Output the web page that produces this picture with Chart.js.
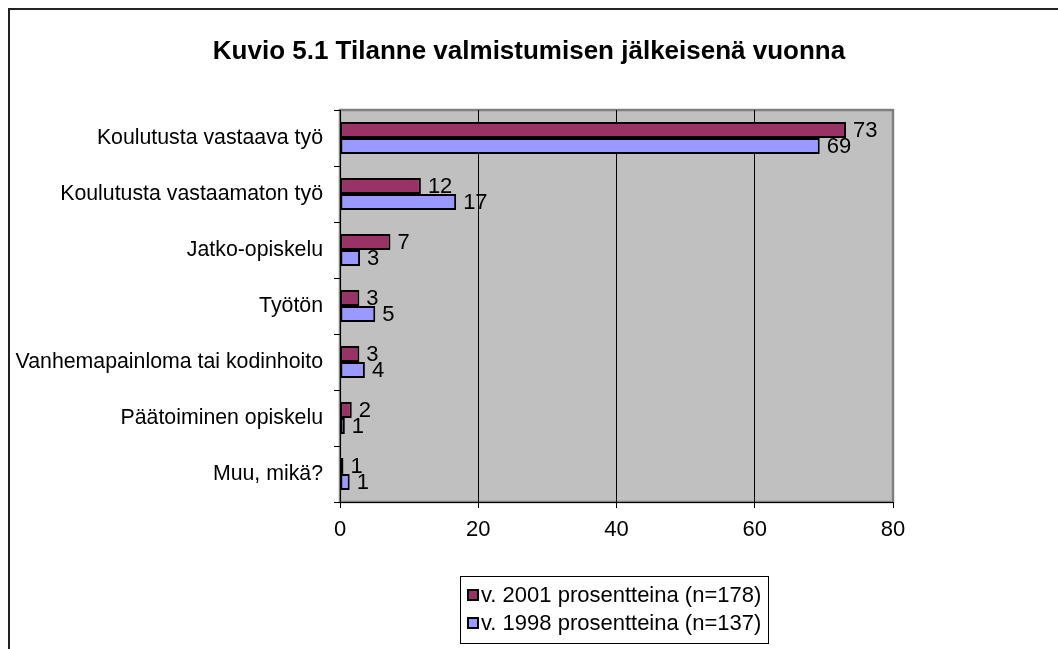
<!DOCTYPE html>
<html><head><meta charset="utf-8">
<script src="https://cdn.jsdelivr.net/npm/chart.js@4/dist/chart.umd.min.js"></script>
<style>html,body{margin:0;padding:0;background:#fff;overflow:hidden}#wrap{width:1058px;height:649px;position:relative}canvas{display:block}</style>
</head><body><div id="wrap"><canvas id="c" width="1058" height="649"></canvas></div>
<script>
const titleText = 'Kuvio 5.1 Tilanne valmistumisen jälkeisenä vuonna';
const categories = ['Koulutusta vastaava työ','Koulutusta vastaamaton työ','Jatko-opiskelu','Työtön','Vanhemapainloma tai kodinhoito','Päätoiminen opiskelu','Muu, mikä?'];
const seriesNames = ['v. 2001 prosentteina (n=178)','v. 1998 prosentteina (n=137)'];
const values2001 = [73.2, 11.7, 7.3, 2.8, 2.8, 1.7, 0.5];
const values1998 = [69.4, 16.8, 2.9, 5.1, 3.6, 0.7, 1.4];
const xTicks = [0, 20, 40, 60, 80];

const FONT = '"Liberation Sans", Arial, sans-serif';
const FS = 22;

const frameAndBg = {
  id: 'frameAndBg',
  beforeDraw(chart) {
    const {ctx, chartArea: a} = chart;
    ctx.save();
    ctx.fillStyle = '#fff';
    ctx.fillRect(0, 0, chart.width, chart.height);
    ctx.strokeStyle = '#222';
    ctx.lineWidth = 2;
    ctx.beginPath();
    ctx.moveTo(9, chart.height + 2);
    ctx.lineTo(9, 9);
    ctx.lineTo(chart.width + 2, 9);
    ctx.stroke();
    ctx.fillStyle = '#C0C0C0';
    ctx.fillRect(a.left, a.top, a.right - a.left, a.bottom - a.top);
    ctx.strokeStyle = '#808080';
    ctx.lineWidth = 2.5;
    ctx.strokeRect(a.left, a.top, a.right - a.left, a.bottom - a.top);
    ctx.restore();
  },
  afterDraw(chart) {
    const {ctx, chartArea: a} = chart;
    const ds = chart.data.datasets;
    ctx.save();
    ctx.font = FS + 'px ' + FONT;
    let maxW = 0;
    ds.forEach(d => { maxW = Math.max(maxW, ctx.measureText(d.label).width); });
    const sw = 10, gap = 3, padL = 8, padR = 7;
    const boxW = Math.round(padL + sw + gap + maxW + padR);
    const cx = (a.left + a.right) / 2 - 3;
    const left = Math.round(cx - boxW / 2);
    const top = 576, rowH = 28, firstRow = 595;
    const boxH = 67;
    ctx.strokeStyle = '#000';
    ctx.lineWidth = 1;
    ctx.strokeRect(left + 0.5, top + 0.5, boxW, boxH);
    ds.forEach((d, i) => {
      const cy = firstRow + i * rowH;
      ctx.fillStyle = d.backgroundColor;
      ctx.fillRect(left + padL, cy - 5, sw, sw);
      ctx.strokeStyle = '#000';
      ctx.lineWidth = 2;
      ctx.strokeRect(left + padL, cy - 5, sw, sw);
      ctx.fillStyle = '#000';
      ctx.textAlign = 'left';
      ctx.textBaseline = 'middle';
      ctx.fillText(d.label, left + padL + sw + gap, cy + 1);
    });
    ctx.restore();
  }
};

const valueLabels = {
  id: 'valueLabels',
  afterDatasetsDraw(chart) {
    const ctx = chart.ctx;
    ctx.save();
    ctx.font = FS + 'px ' + FONT;
    ctx.fillStyle = '#000';
    ctx.textAlign = 'left';
    ctx.textBaseline = 'middle';
    chart.data.datasets.forEach((ds, di) => {
      const meta = chart.getDatasetMeta(di);
      meta.data.forEach((el, i) => {
        ctx.fillText(String(Math.round(ds.data[i])), el.x + 7, el.y + 1);
      });
    });
    ctx.restore();
  }
};

new Chart(document.getElementById('c'), {
  type: 'bar',
  data: {
    labels: categories,
    datasets: [
      { label: seriesNames[0], data: values2001, backgroundColor: '#993366', borderColor: '#000', borderWidth: 2, borderSkipped: false, categoryPercentage: 0.575, barPercentage: 1 },
      { label: seriesNames[1], data: values1998, backgroundColor: '#9999FF', borderColor: '#000', borderWidth: 2, borderSkipped: false, categoryPercentage: 0.575, barPercentage: 1 }
    ]
  },
  options: {
    indexAxis: 'y',
    responsive: false,
    animation: false,
    devicePixelRatio: 1,
    layout: { padding: { top: 0, left: 0, right: 0, bottom: 0 } },
    plugins: {
      title: {
        display: true, text: titleText, color: '#000',
        font: { family: FONT, size: 26, weight: 'bold', lineHeight: 1.2 },
        padding: { top: 36, bottom: 42.8 }
      },
      legend: { display: false },
      tooltip: { enabled: false }
    },
    scales: {
      x: {
        type: 'linear', position: 'bottom', min: 0, max: 80,
        afterBuildTicks: s => { s.ticks = xTicks.map(v => ({ value: v })); },
        ticks: { color: '#000', font: { family: FONT, size: FS }, padding: 9, maxRotation: 0 },
        grid: {
          color: c => (c.tick && c.tick.value === 80) ? '#808080' : '#000',
          tickColor: '#000', tickLength: 6, lineWidth: 1, drawOnChartArea: true
        },
        border: { color: '#000', width: 1 },
        afterFit: s => { s.height = 147; }
      },
      y: {
        type: 'category', position: 'left',
        ticks: { color: '#000', font: { family: FONT, size: 21.3 }, padding: 11 },
        grid: { drawOnChartArea: false, offset: true, tickLength: 6, color: '#000', tickColor: '#000' },
        border: { color: '#000', width: 1 },
        afterFit: s => { s.width = 340; }
      },
      yR: {
        type: 'category', position: 'right', display: true,
        ticks: { display: false }, grid: { display: false }, border: { display: false },
        afterFit: s => { s.width = 165; }
      }
    }
  },
  plugins: [frameAndBg, valueLabels]
});
</script>
</body></html>
